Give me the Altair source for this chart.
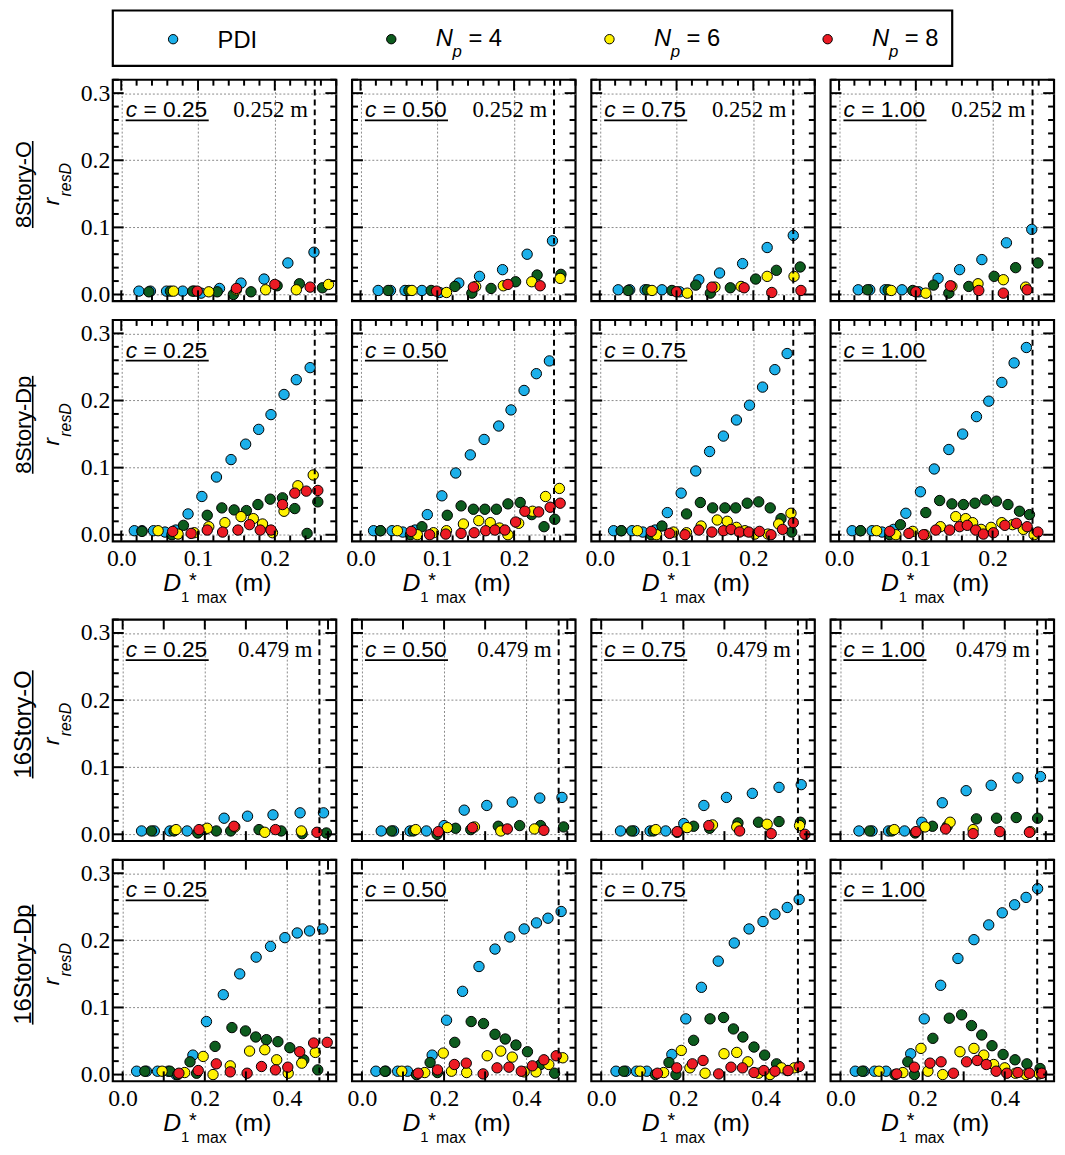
import altair as alt
import pandas as pd

SANS = "Liberation Sans"
SERIF = "Liberation Serif"
W, H = 226, 224
LW, LH = 849, 56

series_names = ["PDI", "Np = 4", "Np = 6", "Np = 8"]
series_colors = ["#1cb0ea", "#0d5c1e", "#fff200", "#ec1b24"]
np_values = ["", "4", "6", "8"]
c_labels = ["0.25", "0.50", "0.75", "1.00"]
row_labels = ["8Story-O", "8Story-Dp", "16Story-O", "16Story-Dp"]
row_label_em = [4.001, 4.501, 4.557, 5.057]
row_label_size = [22, 22, 24, 24]
thresholds = [0.252, 0.252, 0.479, 0.479]
x_domain_8 = [-0.011, 0.28]
x_domain_16 = [-0.024, 0.52]
y_domain = [-0.01, 0.32]
grid_8 = [0.0, 0.1, 0.2]
grid_16 = [0.0, 0.2, 0.4]
grid_y = [0.0, 0.1, 0.2, 0.3]
ticks_x8_major = [0.0, 0.1, 0.2]
ticks_x8_minor = [0.02, 0.04, 0.06, 0.08, 0.12, 0.14, 0.16, 0.18, 0.22, 0.24, 0.26, 0.28]
ticks_x16_major = [0.0, 0.1, 0.2, 0.3, 0.4, 0.5]
ticks_y_major = [0.0, 0.1, 0.2, 0.3]
ticks_y_minor = [0.02, 0.04, 0.06, 0.08, 0.12, 0.14, 0.16, 0.18, 0.22, 0.24, 0.26, 0.28, 0.32]

# ---------------- 8Story-O ----------------
s8o_c25_pdi = [(0.023,0.005),(0.038,0.005),(0.059,0.005),(0.080,0.005),(0.095,0.005),(0.104,0.002),(0.128,0.009),(0.156,0.017),(0.186,0.023),(0.217,0.047),(0.251,0.063)]
s8o_c25_n4 = [(0.036,0.004),(0.064,0.005),(0.093,0.005),(0.125,0.004),(0.146,0.000),(0.169,0.004),(0.203,0.013),(0.232,0.016),(0.262,0.010)]
s8o_c25_n6 = [(0.068,0.005),(0.114,0.004),(0.150,0.007),(0.188,0.007),(0.228,0.007),(0.270,0.015)]
s8o_c25_n8 = [(0.099,0.005),(0.150,0.009),(0.200,0.015),(0.246,0.011)]

s8o_c50_pdi = [(0.023,0.006),(0.039,0.006),(0.058,0.006),(0.080,0.006),(0.103,0.003),(0.128,0.017),(0.155,0.027),(0.185,0.037),(0.217,0.060),(0.250,0.080)]
s8o_c50_n4 = [(0.036,0.006),(0.063,0.006),(0.092,0.006),(0.123,0.012),(0.145,0.002),(0.170,0.009),(0.202,0.019),(0.230,0.029),(0.261,0.030)]
s8o_c50_n6 = [(0.067,0.006),(0.112,0.003),(0.150,0.012),(0.186,0.013),(0.223,0.019),(0.260,0.024)]
s8o_c50_n8 = [(0.099,0.005),(0.147,0.011),(0.192,0.015),(0.234,0.013)]

s8o_c75_pdi = [(0.024,0.007),(0.039,0.007),(0.059,0.007),(0.081,0.007),(0.104,0.004),(0.129,0.022),(0.156,0.032),(0.186,0.046),(0.218,0.070),(0.252,0.088)]
s8o_c75_n4 = [(0.037,0.006),(0.062,0.007),(0.094,0.006),(0.125,0.014),(0.144,0.002),(0.170,0.010),(0.203,0.023),(0.230,0.036),(0.261,0.041)]
s8o_c75_n6 = [(0.068,0.006),(0.114,0.002),(0.150,0.011),(0.184,0.012),(0.218,0.027),(0.253,0.027)]
s8o_c75_n8 = [(0.100,0.004),(0.146,0.011),(0.188,0.010),(0.224,0.003),(0.262,0.006)]

s8o_c100_pdi = [(0.025,0.007),(0.040,0.007),(0.060,0.007),(0.082,0.007),(0.104,0.004),(0.129,0.024),(0.157,0.037),(0.186,0.052),(0.218,0.077),(0.251,0.097)]
s8o_c100_n4 = [(0.037,0.007),(0.064,0.007),(0.096,0.006),(0.123,0.014),(0.143,0.002),(0.169,0.012),(0.202,0.027),(0.230,0.040),(0.259,0.047)]
s8o_c100_n6 = [(0.068,0.006),(0.113,0.002),(0.147,0.012),(0.181,0.016),(0.214,0.022),(0.243,0.011)]
s8o_c100_n8 = [(0.100,0.004),(0.145,0.013),(0.182,0.006),(0.214,0.002),(0.245,0.007)]

# ---------------- 8Story-Dp ----------------
s8d_c25_pdi = [(0.017,0.006),(0.027,0.006),(0.042,0.006),(0.057,0.004),(0.071,0.007),(0.087,0.031),(0.105,0.057),(0.124,0.086),(0.143,0.112),(0.162,0.135),(0.179,0.157),(0.195,0.179),(0.212,0.209),(0.228,0.231),(0.246,0.249)]
s8d_c25_n4 = [(0.027,0.005),(0.066,0.000),(0.081,0.014),(0.112,0.029),(0.131,0.040),(0.147,0.037),(0.163,0.036),(0.178,0.045),(0.194,0.053),(0.210,0.055),(0.226,0.039),(0.242,0.002),(0.256,0.049)]
s8d_c25_n6 = [(0.048,0.006),(0.074,0.001),(0.095,0.003),(0.114,0.012),(0.135,0.018),(0.156,0.027),(0.172,0.024),(0.184,0.016),(0.197,0.003),(0.212,0.035),(0.230,0.073),(0.250,0.089)]
s8d_c25_n8 = [(0.067,0.005),(0.091,0.002),(0.112,0.007),(0.132,0.004),(0.152,0.007),(0.167,0.015),(0.181,0.007),(0.195,0.007),(0.210,0.045),(0.226,0.062),(0.241,0.065),(0.256,0.066)]

s8d_c50_pdi = [(0.017,0.006),(0.026,0.006),(0.041,0.006),(0.055,0.004),(0.071,0.007),(0.087,0.030),(0.106,0.058),(0.124,0.092),(0.143,0.119),(0.161,0.142),(0.180,0.162),(0.196,0.186),(0.213,0.215),(0.229,0.240),(0.246,0.259)]
s8d_c50_n4 = [(0.026,0.006),(0.065,0.000),(0.080,0.012),(0.113,0.029),(0.131,0.043),(0.147,0.038),(0.162,0.038),(0.177,0.038),(0.192,0.046),(0.208,0.048),(0.223,0.030),(0.239,0.012),(0.253,0.023)]
s8d_c50_n6 = [(0.048,0.006),(0.074,0.000),(0.095,0.003),(0.112,0.006),(0.134,0.016),(0.154,0.021),(0.169,0.018),(0.181,0.010),(0.192,0.000),(0.206,0.017),(0.224,0.035),(0.241,0.057),(0.259,0.069)]
s8d_c50_n8 = [(0.066,0.005),(0.090,0.000),(0.111,0.001),(0.131,0.002),(0.148,0.003),(0.163,0.006),(0.175,0.007),(0.188,0.007),(0.202,0.019),(0.214,0.035),(0.232,0.034),(0.247,0.041),(0.260,0.047)]

s8d_c75_pdi = [(0.018,0.006),(0.028,0.006),(0.042,0.006),(0.056,0.004),(0.072,0.007),(0.088,0.033),(0.106,0.062),(0.125,0.095),(0.143,0.124),(0.161,0.147),(0.178,0.171),(0.195,0.193),(0.212,0.220),(0.228,0.246),(0.244,0.270)]
s8d_c75_n4 = [(0.028,0.006),(0.067,0.000),(0.081,0.013),(0.113,0.031),(0.131,0.048),(0.147,0.040),(0.163,0.040),(0.177,0.040),(0.192,0.047),(0.207,0.049),(0.222,0.040),(0.236,0.024),(0.250,0.004)]
s8d_c75_n6 = [(0.049,0.006),(0.074,0.000),(0.096,0.004),(0.113,0.003),(0.132,0.013),(0.153,0.022),(0.166,0.020),(0.178,0.011),(0.189,0.006),(0.202,0.001),(0.219,0.001),(0.233,0.016),(0.249,0.032)]
s8d_c75_n8 = [(0.067,0.005),(0.091,0.002),(0.111,0.000),(0.129,0.007),(0.146,0.004),(0.161,0.006),(0.171,0.008),(0.182,0.004),(0.194,0.004),(0.208,0.005),(0.223,0.000),(0.238,0.008),(0.252,0.018)]

s8d_c100_pdi = [(0.017,0.006),(0.028,0.006),(0.043,0.006),(0.056,0.004),(0.071,0.008),(0.087,0.032),(0.106,0.064),(0.124,0.098),(0.143,0.127),(0.161,0.150),(0.179,0.176),(0.195,0.199),(0.212,0.227),(0.228,0.256),(0.244,0.279)]
s8d_c100_n4 = [(0.028,0.006),(0.066,0.000),(0.080,0.015),(0.113,0.033),(0.131,0.051),(0.147,0.046),(0.162,0.045),(0.177,0.047),(0.191,0.052),(0.205,0.050),(0.220,0.045),(0.235,0.035),(0.248,0.030)]
s8d_c100_n6 = [(0.049,0.006),(0.074,0.000),(0.096,0.005),(0.112,0.000),(0.132,0.012),(0.152,0.027),(0.165,0.024),(0.174,0.018),(0.185,0.008),(0.198,0.011),(0.212,0.018),(0.226,0.015),(0.240,0.008),(0.254,0.000)]
s8d_c100_n8 = [(0.066,0.005),(0.091,0.002),(0.110,0.000),(0.126,0.007),(0.144,0.007),(0.157,0.012),(0.167,0.014),(0.178,0.007),(0.188,0.001),(0.201,0.003),(0.216,0.014),(0.231,0.017),(0.245,0.012),(0.259,0.004)]

# ---------------- 16Story-O ----------------
s16o_c25_pdi = [(0.046,0.005),(0.077,0.005),(0.115,0.005),(0.157,0.005),(0.200,0.007),(0.247,0.024),(0.304,0.027),(0.366,0.029),(0.432,0.032),(0.489,0.032)]
s16o_c25_n4 = [(0.070,0.005),(0.125,0.005),(0.183,0.002),(0.228,0.005),(0.263,0.005),(0.332,0.007),(0.386,0.005),(0.437,0.001),(0.496,0.002)]
s16o_c25_n6 = [(0.130,0.007),(0.206,0.009),(0.273,0.011),(0.346,0.003),(0.435,0.005)]
s16o_c25_n8 = [(0.186,0.007),(0.271,0.012),(0.372,0.007),(0.473,0.003)]

s16o_c50_pdi = [(0.047,0.005),(0.077,0.005),(0.117,0.005),(0.157,0.005),(0.200,0.013),(0.249,0.036),(0.304,0.043),(0.366,0.048),(0.433,0.054),(0.487,0.055)]
s16o_c50_n4 = [(0.072,0.005),(0.125,0.005),(0.183,0.000),(0.228,0.009),(0.265,0.007),(0.332,0.012),(0.384,0.013),(0.435,0.013),(0.491,0.011)]
s16o_c50_n6 = [(0.131,0.007),(0.208,0.010),(0.274,0.011),(0.338,0.005),(0.420,0.008)]
s16o_c50_n8 = [(0.186,0.004),(0.269,0.010),(0.354,0.008),(0.443,0.006)]

s16o_c75_pdi = [(0.047,0.005),(0.080,0.005),(0.119,0.005),(0.157,0.005),(0.201,0.016),(0.250,0.043),(0.305,0.055),(0.368,0.061),(0.433,0.070),(0.487,0.074)]
s16o_c75_n4 = [(0.074,0.005),(0.127,0.005),(0.185,0.003),(0.225,0.012),(0.264,0.009),(0.333,0.017),(0.383,0.018),(0.433,0.019),(0.485,0.018)]
s16o_c75_n6 = [(0.133,0.007),(0.209,0.010),(0.271,0.014),(0.330,0.011),(0.404,0.015),(0.483,0.013)]
s16o_c75_n8 = [(0.185,0.004),(0.262,0.013),(0.337,0.005),(0.414,0.001),(0.496,0.000)]

s16o_c100_pdi = [(0.045,0.005),(0.077,0.005),(0.117,0.005),(0.156,0.005),(0.198,0.018),(0.248,0.047),(0.306,0.065),(0.367,0.073),(0.432,0.084),(0.487,0.086)]
s16o_c100_n4 = [(0.071,0.005),(0.125,0.005),(0.182,0.002),(0.224,0.012),(0.260,0.012),(0.331,0.023),(0.380,0.024),(0.428,0.025),(0.480,0.024)]
s16o_c100_n6 = [(0.131,0.007),(0.206,0.011),(0.267,0.018),(0.323,0.007),(0.462,0.004)]
s16o_c100_n8 = [(0.184,0.004),(0.256,0.008),(0.323,0.001),(0.388,0.004),(0.460,0.003)]

# ---------------- 16Story-Dp ----------------
s16d_c25_pdi = [(0.034,0.005),(0.058,0.005),(0.085,0.005),(0.111,0.005),(0.130,0.000),(0.171,0.029),(0.204,0.079),(0.245,0.119),(0.285,0.150),(0.325,0.175),(0.360,0.191),(0.395,0.204),(0.425,0.211),(0.455,0.214),(0.487,0.217)]
s16d_c25_n4 = [(0.054,0.005),(0.115,0.005),(0.134,0.000),(0.164,0.019),(0.180,0.002),(0.225,0.042),(0.266,0.070),(0.299,0.065),(0.324,0.056),(0.350,0.052),(0.378,0.049),(0.407,0.040),(0.441,0.022),(0.475,0.007)]
s16d_c25_n6 = [(0.096,0.005),(0.151,0.003),(0.196,0.027),(0.220,0.000),(0.262,0.013),(0.309,0.035),(0.346,0.037),(0.375,0.022),(0.403,0.002),(0.436,0.017),(0.469,0.033)]
s16d_c25_n8 = [(0.137,0.002),(0.184,0.006),(0.228,0.016),(0.262,0.004),(0.303,0.002),(0.338,0.012),(0.372,0.007),(0.402,0.011),(0.431,0.034),(0.465,0.047),(0.498,0.048)]

s16d_c50_pdi = [(0.034,0.005),(0.058,0.005),(0.087,0.005),(0.111,0.005),(0.133,0.000),(0.171,0.029),(0.206,0.081),(0.245,0.124),(0.285,0.161),(0.324,0.187),(0.360,0.205),(0.395,0.217),(0.425,0.226),(0.453,0.233),(0.485,0.243)]
s16d_c50_n4 = [(0.056,0.005),(0.133,0.000),(0.166,0.018),(0.184,0.003),(0.226,0.048),(0.266,0.079),(0.296,0.076),(0.324,0.060),(0.349,0.053),(0.375,0.044),(0.403,0.034),(0.435,0.015),(0.469,0.002)]
s16d_c50_n6 = [(0.097,0.005),(0.153,0.003),(0.198,0.032),(0.218,0.005),(0.255,0.003),(0.305,0.028),(0.338,0.035),(0.366,0.026),(0.395,0.004),(0.424,0.004),(0.455,0.015),(0.489,0.025)]
s16d_c50_n8 = [(0.137,0.002),(0.184,0.007),(0.225,0.015),(0.254,0.017),(0.295,0.001),(0.329,0.010),(0.358,0.011),(0.388,0.005),(0.415,0.013),(0.443,0.022),(0.473,0.028)]

s16d_c75_pdi = [(0.036,0.005),(0.060,0.005),(0.086,0.005),(0.111,0.005),(0.172,0.030),(0.206,0.083),(0.244,0.130),(0.285,0.169),(0.324,0.196),(0.360,0.217),(0.394,0.228),(0.423,0.239),(0.453,0.249),(0.482,0.261)]
s16d_c75_n4 = [(0.055,0.005),(0.132,0.000),(0.165,0.018),(0.182,0.000),(0.225,0.051),(0.265,0.083),(0.298,0.085),(0.322,0.068),(0.345,0.056),(0.372,0.041),(0.398,0.029),(0.427,0.016),(0.453,0.006)]
s16d_c75_n6 = [(0.095,0.005),(0.152,0.003),(0.195,0.036),(0.216,0.010),(0.253,0.002),(0.299,0.031),(0.330,0.033),(0.357,0.019),(0.383,0.002),(0.411,0.000),(0.439,0.010),(0.470,0.010)]
s16d_c75_n8 = [(0.137,0.002),(0.184,0.010),(0.222,0.016),(0.248,0.021),(0.286,0.001),(0.316,0.011),(0.344,0.010),(0.372,0.003),(0.396,0.006),(0.423,0.005),(0.455,0.006),(0.482,0.012)]

s16d_c100_pdi = [(0.036,0.005),(0.057,0.005),(0.083,0.005),(0.111,0.005),(0.171,0.031),(0.204,0.083),(0.244,0.133),(0.286,0.173),(0.325,0.201),(0.361,0.223),(0.394,0.241),(0.424,0.253),(0.452,0.264),(0.480,0.277)]
s16d_c100_n4 = [(0.053,0.005),(0.133,0.000),(0.164,0.019),(0.180,0.000),(0.225,0.054),(0.265,0.084),(0.295,0.089),(0.319,0.073),(0.344,0.059),(0.369,0.043),(0.396,0.030),(0.425,0.022),(0.454,0.016),(0.486,0.009)]
s16d_c100_n6 = [(0.094,0.005),(0.152,0.003),(0.196,0.039),(0.213,0.005),(0.249,0.000),(0.291,0.034),(0.325,0.039),(0.349,0.029),(0.373,0.015),(0.400,0.010),(0.426,0.002),(0.452,0.000),(0.484,0.001)]
s16d_c100_n8 = [(0.137,0.001),(0.180,0.011),(0.218,0.017),(0.245,0.019),(0.275,0.002),(0.307,0.019),(0.333,0.021),(0.355,0.015),(0.379,0.005),(0.405,0.002),(0.432,0.003),(0.460,0.002),(0.490,0.002)]

panel_data = [
    [[s8o_c25_pdi, s8o_c25_n4, s8o_c25_n6, s8o_c25_n8],
     [s8o_c50_pdi, s8o_c50_n4, s8o_c50_n6, s8o_c50_n8],
     [s8o_c75_pdi, s8o_c75_n4, s8o_c75_n6, s8o_c75_n8],
     [s8o_c100_pdi, s8o_c100_n4, s8o_c100_n6, s8o_c100_n8]],
    [[s8d_c25_pdi, s8d_c25_n4, s8d_c25_n6, s8d_c25_n8],
     [s8d_c50_pdi, s8d_c50_n4, s8d_c50_n6, s8d_c50_n8],
     [s8d_c75_pdi, s8d_c75_n4, s8d_c75_n6, s8d_c75_n8],
     [s8d_c100_pdi, s8d_c100_n4, s8d_c100_n6, s8d_c100_n8]],
    [[s16o_c25_pdi, s16o_c25_n4, s16o_c25_n6, s16o_c25_n8],
     [s16o_c50_pdi, s16o_c50_n4, s16o_c50_n6, s16o_c50_n8],
     [s16o_c75_pdi, s16o_c75_n4, s16o_c75_n6, s16o_c75_n8],
     [s16o_c100_pdi, s16o_c100_n4, s16o_c100_n6, s16o_c100_n8]],
    [[s16d_c25_pdi, s16d_c25_n4, s16d_c25_n6, s16d_c25_n8],
     [s16d_c50_pdi, s16d_c50_n4, s16d_c50_n6, s16d_c50_n8],
     [s16d_c75_pdi, s16d_c75_n4, s16d_c75_n6, s16d_c75_n8],
     [s16d_c100_pdi, s16d_c100_n4, s16d_c100_n6, s16d_c100_n8]],
]

one = pd.DataFrame({"k": [0]})
fill_scale = alt.Scale(domain=series_names, range=series_colors)


def pts_df(lists):
    recs = []
    for name, pts in zip(series_names, lists):
        for x, y in pts:
            recs.append({"x": x, "y": y, "series": name})
    return pd.DataFrame(recs)


def txt(text, x, y, size, font=SANS, style="normal", align="left", angle=0, baseline="alphabetic"):
    return alt.Chart(one).mark_text(
        text=text, font=font, fontSize=size, fontStyle=style, align=align,
        baseline=baseline, angle=angle, color="black"
    ).encode(x=alt.value(x), y=alt.value(y))


def seg(x, y, x2, y2, width=2.0, color="black", opacity=1.0):
    return alt.Chart(one).mark_rule(color=color, strokeWidth=width, opacity=opacity).encode(
        x=alt.value(x), y=alt.value(y), x2=alt.value(x2), y2=alt.value(y2))


def panel(r, c):
    big = r >= 2
    thr = thresholds[r]
    xs = alt.Scale(domain=x_domain_16 if big else x_domain_8, nice=False, zero=False)
    ys = alt.Scale(domain=y_domain, nice=False, zero=False)
    show_x = r in (1, 3)
    xaxis = alt.Axis(values=grid_16 if big else grid_8, format=".1f", grid=True,
                     gridDash=[2, 2], gridColor="#8a8a8a", gridWidth=1, ticks=False,
                     domain=False, labels=show_x, labelFont=SERIF, labelFontSize=24,
                     labelColor="black", labelPadding=5, labelFlush=False, title=None)
    yaxis = alt.Axis(values=grid_y, format=".1f", grid=True, gridDash=[2, 2],
                     gridColor="#8a8a8a", gridWidth=1, ticks=False, domain=False,
                     labels=(c == 0), labelFont=SERIF, labelFontSize=24,
                     labelColor="black", labelPadding=3, labelFlush=False, title=None)

    def X(f):
        return alt.X(f, scale=xs, axis=xaxis)

    def Y(f):
        return alt.Y(f, scale=ys, axis=yaxis)

    pts = alt.Chart(pts_df(panel_data[r][c])).mark_circle(
        size=110, stroke="black", strokeWidth=1, opacity=1
    ).encode(
        x=X("x:Q"), y=Y("y:Q"),
        fill=alt.Fill("series:N", scale=fill_scale, legend=None),
    )
    layers = [pts]

    def xt(vals, L):
        d = pd.DataFrame({"v": vals})
        return [
            alt.Chart(d).mark_rule(color="black", strokeWidth=2).encode(
                x=X("v:Q"), y=alt.value(H), y2=alt.value(H - L)),
            alt.Chart(d).mark_rule(color="black", strokeWidth=2).encode(
                x=X("v:Q"), y=alt.value(0), y2=alt.value(L)),
        ]

    def yt(vals, L):
        d = pd.DataFrame({"v": vals})
        return [
            alt.Chart(d).mark_rule(color="black", strokeWidth=2).encode(
                y=Y("v:Q"), x=alt.value(0), x2=alt.value(L)),
            alt.Chart(d).mark_rule(color="black", strokeWidth=2).encode(
                y=Y("v:Q"), x=alt.value(W), x2=alt.value(W - L)),
        ]

    if big:
        layers += xt(ticks_x16_major, 10)
    else:
        layers += xt(ticks_x8_major, 11)
        layers += xt(ticks_x8_minor, 6)
    layers += yt(ticks_y_major, 11)
    layers += yt(ticks_y_minor, 6)

    tdf = pd.DataFrame({"t": [thr], "lab": [f"{thr:.3f} m"]})
    layers.append(alt.Chart(tdf).mark_rule(color="black", strokeWidth=2, strokeDash=[6, 4]).encode(
        x=X("t:Q")))
    if r in (0, 2):
        layers.append(alt.Chart(tdf).mark_text(align="right", dx=-7, font=SERIF, fontSize=23,
                                               baseline="alphabetic", color="black").encode(
            x=X("t:Q"), y=alt.value(38), text="lab:N"))

    # c = ... label with underline
    layers.append(txt("c", 13, 38, 23, style="italic"))
    layers.append(txt("= " + c_labels[c], 31, 38, 23))
    layers.append(seg(13, 41, 97, 41, width=1.8))

    # x-axis title
    if show_x:
        m = W / 2
        layers.append(txt("D", m - 62, H + 50, 25, style="italic"))
        layers.append(txt("1", m - 44, H + 61, 15))
        layers.append(txt("*", m - 36, H + 46, 20))
        layers.append(txt("max", m - 28, H + 62, 16))
        layers.append(txt("(m)", m + 10, H + 50, 25))

    if c == 0:
        fs = row_label_size[r]
        L = row_label_em[r] * fs
        cy = H / 2 - 6
        layers.append(txt(row_labels[r], -90, cy, fs, align="center", angle=270, baseline="middle"))
        layers.append(seg(-81, cy - L / 2, -81, cy + L / 2, width=1.6))
        layers.append(txt("r", -61, 127, 23, style="italic", angle=270, baseline="middle"))
        layers.append(txt("resD", -47, 118, 16, style="italic", angle=270, baseline="middle"))
        layers.append(seg(-104, -6, -103, -6, width=0.5, color="white", opacity=0.01))
    else:
        layers.append(seg(-10, -6, -9, -6, width=0.5, color="white", opacity=0.01))
    return alt.layer(*layers).properties(width=W, height=H)


# ---------------- legend ----------------
leg_df = pd.DataFrame({"series": series_names, "np": np_values})
leg_df["eq"] = "= " + leg_df["np"]
lx = alt.X("series:N", scale=alt.Scale(domain=series_names, range=[61, 723], padding=0), axis=None)
leg_base = alt.Chart(leg_df)
legend = alt.layer(
    seg(-104, 0, -103, 0, width=0.5, color="white", opacity=0.01),
    leg_base.mark_circle(size=90, stroke="black", strokeWidth=1, opacity=1).encode(
        x=lx, y=alt.value(29), fill=alt.Fill("series:N", scale=fill_scale, legend=None)),
    leg_base.transform_filter(alt.datum.np == "").mark_text(
        align="left", dx=45, font=SANS, fontSize=24, baseline="alphabetic", color="black").encode(
        x=lx, y=alt.value(38), text="series:N"),
    leg_base.transform_filter(alt.datum.np != "").mark_text(
        align="left", dx=45, font=SANS, fontSize=24, fontStyle="italic", baseline="alphabetic",
        color="black", text="N").encode(x=lx, y=alt.value(36)),
    leg_base.transform_filter(alt.datum.np != "").mark_text(
        align="left", dx=62, font=SANS, fontSize=17, fontStyle="italic", baseline="alphabetic",
        color="black", text="p").encode(x=lx, y=alt.value(47)),
    leg_base.transform_filter(alt.datum.np != "").mark_text(
        align="left", dx=78, font=SANS, fontSize=24, baseline="alphabetic", color="black").encode(
        x=lx, y=alt.value(36), text="eq:N"),
).properties(width=LW, height=LH)

rows = [alt.hconcat(*[panel(r, c) for c in range(4)], spacing=1) for r in range(4)]
chart = alt.vconcat(legend, *rows, spacing=4).properties(
    padding={"left": 0, "top": -6, "right": 0, "bottom": 0}
).configure_axis(labelFont=SERIF, labelFontSize=24, labelColor="black").configure_view(
    stroke="black", strokeWidth=2.2)

chart.save("out.html", embed_options={"renderer": "svg", "actions": False})
